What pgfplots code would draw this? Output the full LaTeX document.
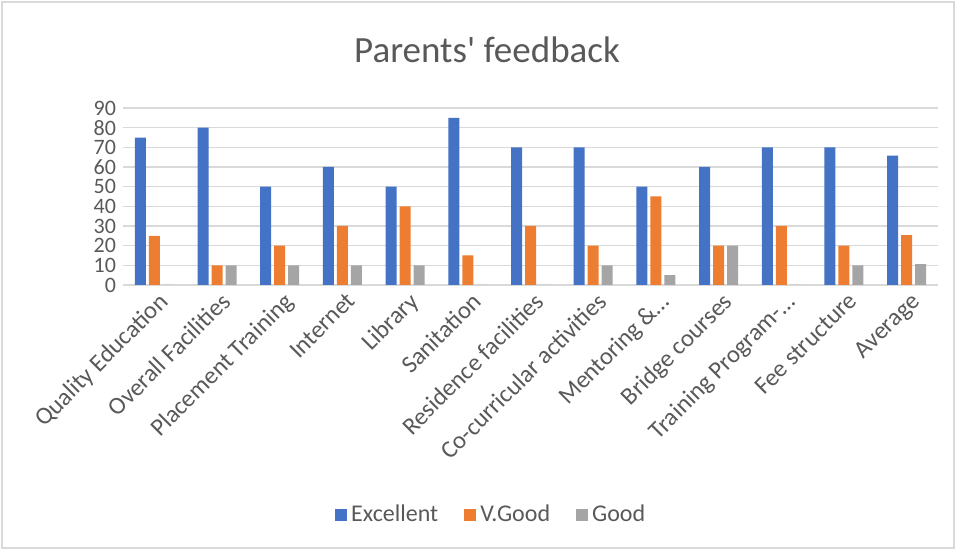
\documentclass[border=0pt]{standalone}
\usepackage{pgfplots}
\pgfplotsset{compat=1.18}
\usepackage{pgfplotstable}
\usepackage{fontspec}
\setmainfont{Carlito}
\definecolor{cblue}{HTML}{4472C4}
\definecolor{corange}{HTML}{ED7D31}
\definecolor{cgray}{HTML}{A5A5A5}
\definecolor{gridgray}{HTML}{D9D9D9}
\definecolor{textgray}{HTML}{595959}
\pgfplotstableread{
x exc vgood good
0 75 25 0
1 80 10 10
2 50 20 10
3 60 30 10
4 50 40 10
5 85 15 0
6 70 30 0
7 70 20 10
8 50 45 5
9 60 20 20
10 70 30 0
11 70 20 10
12 65.8 25.4 10.6
}\datatable
\begin{document}
\begin{tikzpicture}
\path[use as bounding box] (0pt,0pt) rectangle (478pt,275pt);
\draw[gridgray, line width=0.6pt] (1pt,1pt) rectangle (477pt,274pt);
\node[text=textgray, font=\fontsize{18.5}{22}\selectfont] at (243.5pt,250pt) {Parents\textquotesingle{} feedback};
\begin{axis}[
  at={(61.5pt,132.5pt)}, anchor=south west,
  scale only axis, width=407.5pt, height=88.5pt,
  xmin=-0.5, xmax=12.5, ymin=0, ymax=90,
  ybar=1.5pt, bar width=5.5pt,
  axis line style={draw=none},
  major tick length=0pt,
  ytick={0,10,...,90},
  ymajorgrids, grid style={gridgray, line width=0.75pt},
  xtick={0,...,12},
  xticklabels={Quality Education, Overall Facilities, Placement Training, Internet, Library, Sanitation, Residence facilities, Co-curricular activities, Mentoring \&\ldots, Bridge courses, Training Program-\ldots, Fee structure, Average},
  xticklabel style={rotate=45, anchor=north east, inner sep=1pt, yshift=-2pt, text=textgray, font=\fontsize{12.3}{14}\selectfont},
  yticklabel style={text=textgray, font=\fontsize{11}{13}\selectfont},
  /pgf/number format/assume math mode=true,
  legend style={at={(0.453,-1.30)}, anchor=center, draw=none, legend columns=-1, text=textgray, font=\fontsize{12}{14}\selectfont, /tikz/every even column/.append style={column sep=11pt}},
  legend image code/.code={\fill[#1] (0pt,-3pt) rectangle (6pt,3pt);},
]
\addplot[fill=cblue, draw=none] table[x=x, y=exc] {\datatable};
\addplot[fill=corange, draw=none] table[x=x, y=vgood] {\datatable};
\addplot[fill=cgray, draw=none] table[x=x, y=good] {\datatable};
\legend{Excellent, V.Good, Good}
\end{axis}
\end{tikzpicture}
\end{document}
